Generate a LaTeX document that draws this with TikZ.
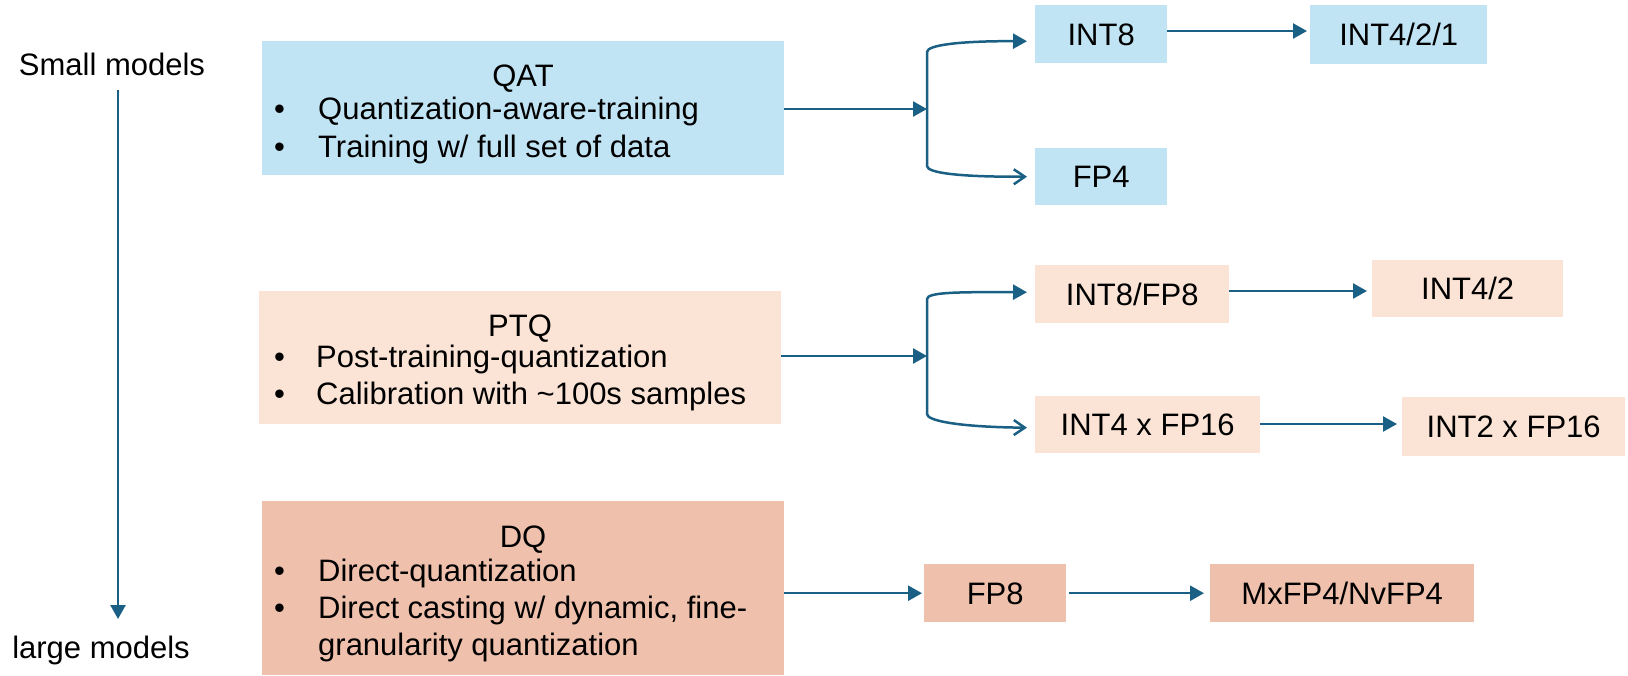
\documentclass[tikz,border=0pt]{standalone}
\usepackage{fontspec}
\setmainfont{Liberation Sans}
\usetikzlibrary{arrows.meta,calc}
\definecolor{flow}{HTML}{1A5F84}
\definecolor{qatfill}{HTML}{C1E4F5}
\definecolor{ptqfill}{HTML}{FBE3D6}
\definecolor{dqfill}{HTML}{EFC1AD}
\begin{document}
\begin{tikzpicture}[x=1pt,y=-1pt,
  every node/.style={font=\fontsize{31}{37}\selectfont, inner sep=0pt, text height=22pt, text depth=0pt},
  panel/.style={rectangle, anchor=north west, draw=none},
  fmt/.style={rectangle, anchor=north west, draw=none},
  item/.style={anchor=west},
  arr/.style={draw=flow, line width=2.5pt, -{Triangle[length=14pt,width=15pt]}},
  openarr/.style={draw=flow, line width=2.5pt, -{Straight Barb[length=11pt,width=15pt]}}]
\useasboundingbox (0,0) rectangle (1628,675);

% scale from small to large models
\node (small) at (112,64) {Small models};
\node (large) at (101,647) {large models};
\coordinate (axtop) at (118,90);
\coordinate (axbot) at (118,619);
\draw[arr] (axtop) -- (axbot);

% QAT row
\node[panel, fill=qatfill, minimum width=522pt, minimum height=134pt] (qat) at (262,41) {};
\node (qatT) at (523,75) {QAT};
\node[item] at (274,108) {•};
\node[item] at (318,108) {Quantization-aware-training};
\node[item] at (274,146) {•};
\node[item] at (318,146) {Training w/ full set of data};

\node[fmt, fill=qatfill, minimum width=132pt, minimum height=58pt] (int8) at (1035,5) {INT8};
\node[fmt, fill=qatfill, minimum width=132pt, minimum height=57pt] (fp4) at (1035,148) {FP4};
\node[fmt, fill=qatfill, minimum width=177pt, minimum height=59pt] (int421) at (1310,5) {INT4/2/1};

\coordinate (qj) at (927,109);
\draw[arr] (qat.east |- qj) -- (qj);
\draw[arr] (qj) -- (927,52) .. controls (927,45) and (960,41) .. ($(int8.west)+(-8,7)$);
\draw[openarr] (qj) -- (927,166) .. controls (927,173) and (960,177) .. ($(fp4.west)+(-8,0)$);
\draw[arr, shorten >=3pt] (int8.east |- 0,31) -- (int421.west |- 0,31);

% PTQ row
\node[panel, fill=ptqfill, minimum width=522pt, minimum height=133pt] (ptq) at (259,291) {};
\node (ptqT) at (520,325) {PTQ};
\node[item] at (274,356) {•};
\node[item] at (316,356) {Post-training-quantization};
\node[item] at (274,393) {•};
\node[item] at (316,393) {Calibration with \textasciitilde100s samples};

\node[fmt, fill=ptqfill, minimum width=194pt, minimum height=58pt] (int8fp8) at (1035,265) {INT8/FP8};
\node[fmt, fill=ptqfill, minimum width=225pt, minimum height=57pt] (int4fp16) at (1035,396) {INT4 x FP16};
\node[fmt, fill=ptqfill, minimum width=191pt, minimum height=57pt] (int42) at (1372,260) {INT4/2};
\node[fmt, fill=ptqfill, minimum width=223pt, minimum height=59pt] (int2fp16) at (1402,397) {INT2 x FP16};

\coordinate (pj) at (927,356);
\draw[arr] (ptq.east |- pj) -- (pj);
\draw[arr] (pj) -- (927,299) .. controls (927,292) and (960,292) .. ($(int8fp8.west)+(-8,-2)$);
\draw[openarr] (pj) -- (927,414) .. controls (927,421) and (960,427) .. ($(int4fp16.west)+(-8,3)$);
\draw[arr, shorten >=5pt] (int8fp8.east |- 0,291) -- (int42.west |- 0,291);
\draw[arr, shorten >=5pt] (int4fp16.east |- 0,424) -- (int2fp16.west |- 0,424);

% DQ row
\node[panel, fill=dqfill, minimum width=522pt, minimum height=174pt] (dq) at (262,501) {};
\node (dqT) at (523,536) {DQ};
\node[item] at (274,570) {•};
\node[item] at (318,570) {Direct-quantization};
\node[item] at (274,607) {•};
\node[item] at (318,607) {Direct casting w/ dynamic, fine-};
\node[item] at (318,644) {granularity quantization};

\node[fmt, fill=dqfill, minimum width=142pt, minimum height=58pt] (fp8) at (924,564) {FP8};
\node[fmt, fill=dqfill, minimum width=264pt, minimum height=58pt] (mx) at (1210,564) {MxFP4/NvFP4};

\draw[arr, shorten >=2pt] (dq.east |- fp8.west) -- (fp8.west);
\draw[arr, shorten <=3pt, shorten >=6pt] (fp8.east) -- (mx.west);
\end{tikzpicture}
\end{document}
